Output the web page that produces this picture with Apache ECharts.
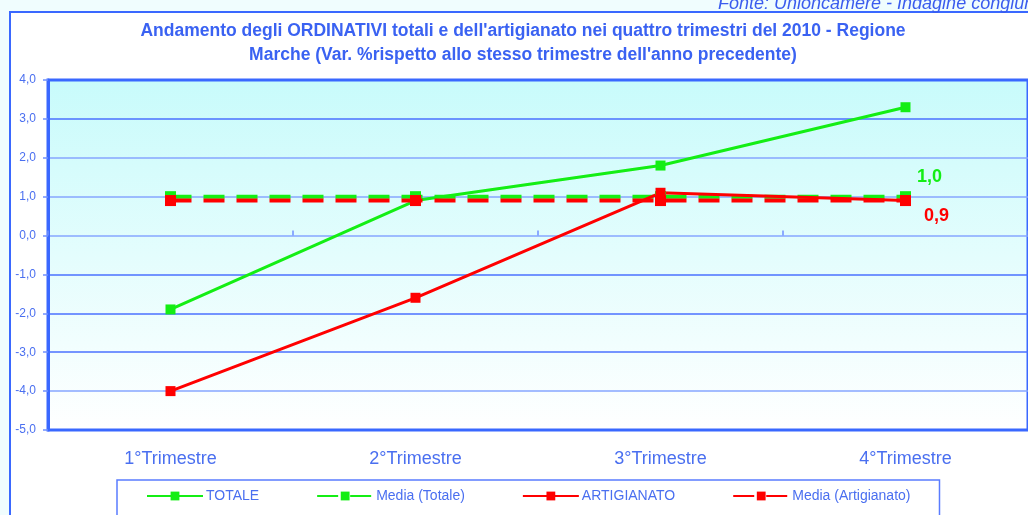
<!DOCTYPE html>
<html style="height: 100%">

<head>
    <meta charset="utf-8">
    <title>index</title>
    <style>
        body {
            margin: 0;
            background: #f0fdfe;
        }

        #container {
            width: 1028px;
            height: 515px;
        }
    </style>
</head>

<body>
    <div id="container"></div>
</body>
<script src="https://cdn.jsdelivr.net/npm/echarts@6/dist/echarts.min.js"></script>
<script type="text/javascript">
    var dom = document.getElementById("container");
    var myChart = echarts.init(dom);

    // dati
    var trimestri = ["1°Trimestre", "2°Trimestre", "3°Trimestre", "4°Trimestre"];
    var totale = [-1.9, 0.9, 1.8, 3.3];
    var mediaTotale = [1.0, 1.0, 1.0, 1.0];
    var artigianato = [-4.0, -1.6, 1.1, 0.9];
    var mediaArtigianato = [0.9, 0.9, 0.9, 0.9];
    var yTicks = { min: -5, max: 4, step: 1 };

    var blu = '#4a6ff0';
    var verde = '#14ee14';
    var rosso = '#ff0000';

    function virgola(v) {
        return Number(v).toFixed(1).replace('.', ',');
    }

    function serie(name, data, color, dashed, lab) {
        return {
            name: name,
            type: 'line',
            data: data,
            symbol: 'rect',
            symbolSize: dashed ? 11 : 10,
            showSymbol: true,
            animation: false,
            itemStyle: { color: color },
            lineStyle: {
                color: color,
                width: dashed ? 4 : 3,
                type: dashed ? [21, 12] : 'solid'
            },
            label: {
                show: !!lab,
                position: 'inside',
                offset: lab ? lab : [0, 0],
                color: color,
                fontFamily: 'Liberation Sans',
                fontWeight: 'bold',
                fontSize: 18,
                formatter: function (p) {
                    return p.dataIndex === data.length - 1 ? virgola(p.value) : '';
                }
            }
        };
    }

    option = {
        backgroundColor: '#f0fdfe',
        textStyle: {
            fontFamily: 'Liberation Sans'
        },
        graphic: [{
            type: 'rect',
            z: -10,
            shape: { x: 10, y: 12, width: 1040, height: 520 },
            style: { fill: '#ffffff', stroke: '#3a68ff', lineWidth: 2 }
        }, {
            type: 'text',
            left: 718,
            top: -5,
            style: {
                text: "Fonte: Unioncamere - Indagine congiunturale",
                fill: '#3a5cee',
                font: 'italic 18px "Liberation Sans"'
            }
        }],
        title: {
            text: "Andamento degli ORDINATIVI totali e dell'artigianato nei quattro trimestri del 2010 - Regione\nMarche (Var. %rispetto allo stesso trimestre dell'anno precedente)",
            left: 523,
            top: 19,
            padding: 0,
            textAlign: 'center',
            textStyle: {
                color: '#3a62f2',
                fontSize: 17.5,
                fontWeight: 'bold',
                lineHeight: 24,
                fontFamily: 'Liberation Sans'
            }
        },
        legend: {
            left: 117,
            top: 480,
            padding: [9, 29, 20, 29],
            itemWidth: 56,
            itemHeight: 11,
            itemGap: 57,
            borderColor: '#5a7cff',
            borderWidth: 1.5,
            textStyle: {
                color: blu,
                fontSize: 14,
                padding: [0, 0, 0, -2]
            },
            data: ['TOTALE', 'Media (Totale)', 'ARTIGIANATO', 'Media (Artigianato)']
        },
        grid: {
            left: 48,
            top: 80,
            width: 985,
            bottom: 85,
            show: true,
            borderColor: '#3a68ff',
            borderWidth: 3,
            backgroundColor: new echarts.graphic.LinearGradient(0, 0, 0, 1, [
                { offset: 0, color: '#c8fbfb' },
                { offset: 1, color: '#ffffff' }
            ])
        },
        xAxis: [{
            type: 'category',
            data: trimestri,
            position: 'bottom',
            axisLine: { show: false, onZero: false },
            axisTick: { show: false },
            axisLabel: {
                color: blu,
                fontSize: 18,
                margin: 20
            }
        }, {
            type: 'category',
            data: trimestri,
            axisLine: { show: false, onZero: true },
            axisTick: {
                show: true,
                length: 5,
                lineStyle: { color: '#6f90ff', width: 1.5 }
            },
            axisLabel: { show: false }
        }],
        yAxis: {
            type: 'value',
            min: yTicks.min,
            max: yTicks.max,
            interval: yTicks.step,
            axisLine: {
                show: true,
                lineStyle: { color: '#3a68ff', width: 3 }
            },
            axisTick: {
                show: true,
                length: 5,
                lineStyle: { color: '#6f90ff', width: 1.5 }
            },
            axisLabel: {
                color: blu,
                fontSize: 12,
                margin: 12,
                formatter: virgola
            },
            splitLine: {
                lineStyle: {
                    color: ['#3a68ff', '#86a6ff', '#4a70ff', '#4a70ff', '#4a70ff', '#86a6ff', '#86a6ff', '#86a6ff', '#4a70ff', '#3a68ff'],
                    width: 1.5
                }
            }
        },
        series: [
            serie('TOTALE', totale, verde, false),
            serie('Media (Totale)', mediaTotale, verde, true, [24, -20]),
            serie('ARTIGIANATO', artigianato, rosso, false),
            serie('Media (Artigianato)', mediaArtigianato, rosso, true, [31, 15])
        ]
    };
    if (option && typeof option === "object") {
        myChart.setOption(option, true);
    };
</script>

</html>
